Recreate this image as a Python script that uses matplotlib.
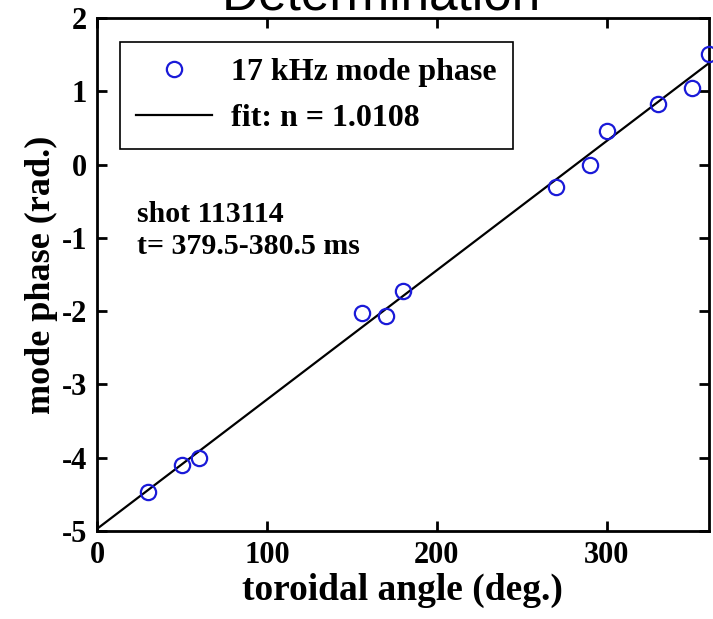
import matplotlib
matplotlib.use("Agg")
import matplotlib.pyplot as plt
import numpy as np

# measured mode phase vs toroidal probe angle
angle_deg = [30, 50, 60, 156, 170, 180, 270, 290, 300, 330, 350, 360]
phase_rad = [-4.47, -4.10, -4.00, -2.02, -2.07, -1.73, -0.30, 0.00, 0.46, 0.83, 1.04, 1.51]

# linear fit: phase = n * angle + offset
fit_n = 1.0108
fit_offset = -4.97
fit_range = [0, 360]

x_ticks = [0, 100, 200, 300]
y_ticks = [-5, -4, -3, -2, -1, 0, 1, 2]

serif = "Liberation Serif"
plt.rcParams["axes.unicode_minus"] = False

fig = plt.figure(figsize=(7.13, 6.19), dpi=100)
ax = fig.add_axes([0.136, 0.142, 0.858, 0.829])

fit_x = np.linspace(fit_range[0], fit_range[1], 200)
fit_y = fit_n * np.deg2rad(fit_x) + fit_offset

ax.plot(angle_deg, phase_rad, "o", mfc="none", mec="#1a1ad8", ms=11, mew=1.6,
        label="17 kHz mode phase", clip_on=False, zorder=3)
ax.plot(fit_x, fit_y, color="black", lw=1.6, label="fit: n = 1.0108")

ax.set_xlim(0, 360)
ax.set_ylim(-5, 2)
ax.set_xticks(x_ticks)
ax.set_yticks(y_ticks)
ax.tick_params(direction="in", length=7, width=2, top=True, right=True,
               labelsize=22, pad=7)
for lab in ax.get_xticklabels() + ax.get_yticklabels():
    lab.set_fontfamily(serif)
    lab.set_fontweight("bold")
for sp in ax.spines.values():
    sp.set_linewidth(2)

ax.set_xlabel("toroidal angle (deg.)", fontsize=27, fontweight="bold",
              fontfamily=serif, labelpad=2)
ax.set_ylabel("mode phase (rad.)", fontsize=26, fontweight="bold",
              fontfamily=serif, labelpad=3)

leg = ax.legend(loc="upper left", bbox_to_anchor=(0.037, 0.953),
                prop={"family": serif, "weight": "bold", "size": 23},
                fancybox=False, framealpha=1, edgecolor="black",
                handlelength=2.4, handletextpad=0.6, borderpad=0.5,
                borderaxespad=0, labelspacing=0.5)
leg.get_frame().set_linewidth(1.2)

ax.text(0.065, 0.602, "shot 113114", transform=ax.transAxes,
        fontsize=21.5, fontweight="bold", fontfamily=serif)
ax.text(0.065, 0.54, "t= 379.5-380.5 ms", transform=ax.transAxes,
        fontsize=21.5, fontweight="bold", fontfamily=serif)

# title, mostly cut off by the top edge
fig.text(0.535, 1 - 9 / 619, "Determination", ha="center", va="baseline",
         fontsize=37, fontfamily="Liberation Sans")

fig.savefig("out.png", dpi=100)
